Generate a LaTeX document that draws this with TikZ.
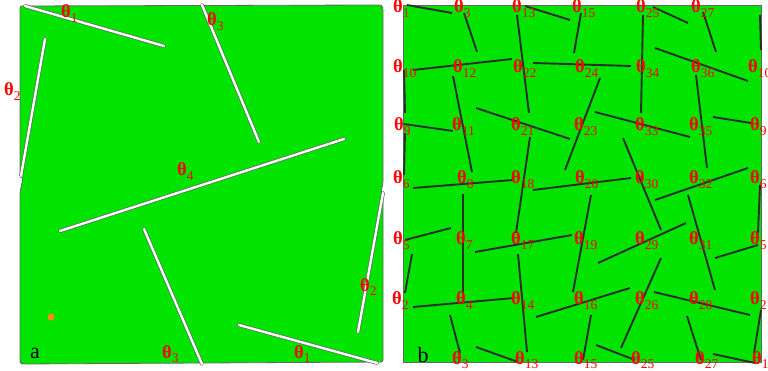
\documentclass[tikz,border=0pt]{standalone}
\usepackage{fontspec}
\setmainfont{Liberation Serif}
\definecolor{leaf}{RGB}{0,228,0}
\definecolor{roddark}{RGB}{40,48,40}
\definecolor{rimgray}{RGB}{95,105,95}
\definecolor{dotorange}{RGB}{255,140,20}
\newcommand{\tlab}[1]{\textbf{θ}\raisebox{-4.5pt}{\fontsize{13.5}{13.5}\selectfont #1}}

\begin{document}
\begin{tikzpicture}[x=1pt, y=-1pt,
  panel/.style={draw=rimgray, line width=0.8pt, fill=leaf},
  crack/.style={double=white, draw=rimgray, double distance=2.4pt, line width=0.7pt, line cap=round},
  rod/.style={draw=roddark, line width=1.9pt},
  lab/.style={text=red, font=\fontsize{18.5}{18.5}\selectfont, inner sep=0pt, anchor=base west},
  tag/.style={font=\fontsize{22}{22}\selectfont, inner sep=0pt, anchor=base}]
  \useasboundingbox (0,0) rectangle (768,371);
  % panel a
  \draw[panel, rounded corners=2pt] (20,6) -- (381,5) -- (383,8) -- (383,183) -- (381,192) -- (383,195) -- (383,362) -- (22,364) -- (20,362) -- (20,192) -- (23,178) -- (20,175) -- cycle;
  \draw[crack] (25,6) -- (164,46);
  \draw[crack] (45,39) -- (21,176);
  \draw[crack] (202,5) -- (259,142);
  \draw[crack] (344,139) -- (60,231);
  \draw[crack] (144,229) -- (202,364);
  \draw[crack] (383,193) -- (358,332);
  \draw[crack] (239,325) -- (377,363);
  \fill[dotorange] (51,317) circle (3.5);
  \node[lab] (a1) at (61,18) {\tlab{1}};
  \node[lab] (a2) at (4,96) {\tlab{2}};
  \node[lab] (a3) at (207,26) {\tlab{3}};
  \node[lab] (a4) at (177,176) {\tlab{4}};
  \node[lab] (a5) at (162,358) {\tlab{3}};
  \node[lab] (a6) at (360,291) {\tlab{2}};
  \node[lab] (a7) at (294,358) {\tlab{1}};
  \node[tag] (pa) at (35,358) {a};
  % panel b
  \draw[panel] (403,5) rectangle (761,362);
  \draw[rod] (407,5) -- (452,13);
  \draw[rod] (464,13) -- (477,52);
  \draw[rod] (517,15) -- (529,113);
  \draw[rod] (525,6) -- (570,20);
  \draw[rod] (581,13) -- (574,53);
  \draw[rod] (413,70) -- (512,59);
  \draw[rod] (533,63) -- (631,66);
  \draw[rod] (404,70) -- (405,113);
  \draw[rod] (453,76) -- (472,172);
  \draw[rod] (476,108) -- (570,139);
  \draw[rod] (404,124) -- (453,131);
  \draw[rod] (405,133) -- (404,175);
  \draw[rod] (600,78) -- (565,170);
  \draw[rod] (530,137) -- (516,233);
  \draw[rod] (413,188) -- (513,180);
  \draw[rod] (533,190) -- (631,178);
  \draw[rod] (643,15) -- (641,113);
  \draw[rod] (653,7) -- (688,23);
  \draw[rod] (703,12) -- (716,52);
  \draw[rod] (760,15) -- (761,50);
  \draw[rod] (655,48) -- (748,81);
  \draw[rod] (696,75) -- (707,168);
  \draw[rod] (595,112) -- (690,137);
  \draw[rod] (713,117) -- (751,123);
  \draw[rod] (623,138) -- (661,230);
  \draw[rod] (655,200) -- (748,168);
  \draw[rod] (463,194) -- (463,293);
  \draw[rod] (405,240) -- (451,228);
  \draw[rod] (412,254) -- (405,293);
  \draw[rod] (475,252) -- (572,235);
  \draw[rod] (518,254) -- (527,352);
  \draw[rod] (413,307) -- (514,298);
  \draw[rod] (450,315) -- (460,353);
  \draw[rod] (476,347) -- (518,362);
  \draw[rod] (536,317) -- (630,288);
  \draw[rod] (591,195) -- (573,292);
  \draw[rod] (598,263) -- (686,223);
  \draw[rod] (688,195) -- (715,290);
  \draw[rod] (760,185) -- (758,233);
  \draw[rod] (715,258) -- (758,245);
  \draw[rod] (661,258) -- (621,348);
  \draw[rod] (654,292) -- (750,315);
  \draw[rod] (591,315) -- (583,360);
  \draw[rod] (596,345) -- (635,360);
  \draw[rod] (687,316) -- (701,360);
  \draw[rod] (713,354) -- (755,363);
  \draw[rod] (761,310) -- (754,353);
  % labels b, row by row
  \node[lab] (p00) at (393,13) {\tlab{1}};
  \node[lab] (p01) at (454,13) {\tlab{3}};
  \node[lab] (p02) at (512,13) {\tlab{13}};
  \node[lab] (p03) at (572,13) {\tlab{15}};
  \node[lab] (p04) at (636,13) {\tlab{25}};
  \node[lab] (p05) at (691,13) {\tlab{27}};
  \node[lab] (p10) at (393,73) {\tlab{10}};
  \node[lab] (p11) at (453,73) {\tlab{12}};
  \node[lab] (p12) at (513,73) {\tlab{22}};
  \node[lab] (p13) at (575,73) {\tlab{24}};
  \node[lab] (p14) at (636,73) {\tlab{34}};
  \node[lab] (p15) at (691,73) {\tlab{36}};
  \node[lab] (p16) at (748,73) {\tlab{10}};
  \node[lab] (p20) at (394,131) {\tlab{9}};
  \node[lab] (p21) at (452,131) {\tlab{11}};
  \node[lab] (p22) at (511,131) {\tlab{21}};
  \node[lab] (p23) at (574,131) {\tlab{23}};
  \node[lab] (p24) at (635,131) {\tlab{33}};
  \node[lab] (p25) at (689,131) {\tlab{35}};
  \node[lab] (p26) at (750,131) {\tlab{9}};
  \node[lab] (p30) at (393,184) {\tlab{6}};
  \node[lab] (p31) at (457,184) {\tlab{8}};
  \node[lab] (p32) at (511,184) {\tlab{18}};
  \node[lab] (p33) at (575,184) {\tlab{20}};
  \node[lab] (p34) at (635,184) {\tlab{30}};
  \node[lab] (p35) at (689,184) {\tlab{32}};
  \node[lab] (p36) at (750,184) {\tlab{6}};
  \node[lab] (p40) at (393,245) {\tlab{5}};
  \node[lab] (p41) at (456,245) {\tlab{7}};
  \node[lab] (p42) at (511,245) {\tlab{17}};
  \node[lab] (p43) at (574,245) {\tlab{19}};
  \node[lab] (p44) at (635,245) {\tlab{29}};
  \node[lab] (p45) at (689,245) {\tlab{31}};
  \node[lab] (p46) at (750,245) {\tlab{5}};
  \node[lab] (p50) at (392,305) {\tlab{2}};
  \node[lab] (p51) at (456,305) {\tlab{4}};
  \node[lab] (p52) at (511,305) {\tlab{14}};
  \node[lab] (p53) at (574,305) {\tlab{16}};
  \node[lab] (p54) at (635,305) {\tlab{26}};
  \node[lab] (p55) at (689,305) {\tlab{28}};
  \node[lab] (p56) at (750,305) {\tlab{2}};
  \node[lab] (p61) at (452,364) {\tlab{3}};
  \node[lab] (p62) at (515,364) {\tlab{13}};
  \node[lab] (p63) at (574,364) {\tlab{15}};
  \node[lab] (p64) at (631,364) {\tlab{25}};
  \node[lab] (p65) at (695,364) {\tlab{27}};
  \node[lab] (p66) at (752,364) {\tlab{1}};
  \node[tag] (pb) at (423,362) {b};
\end{tikzpicture}
\end{document}
